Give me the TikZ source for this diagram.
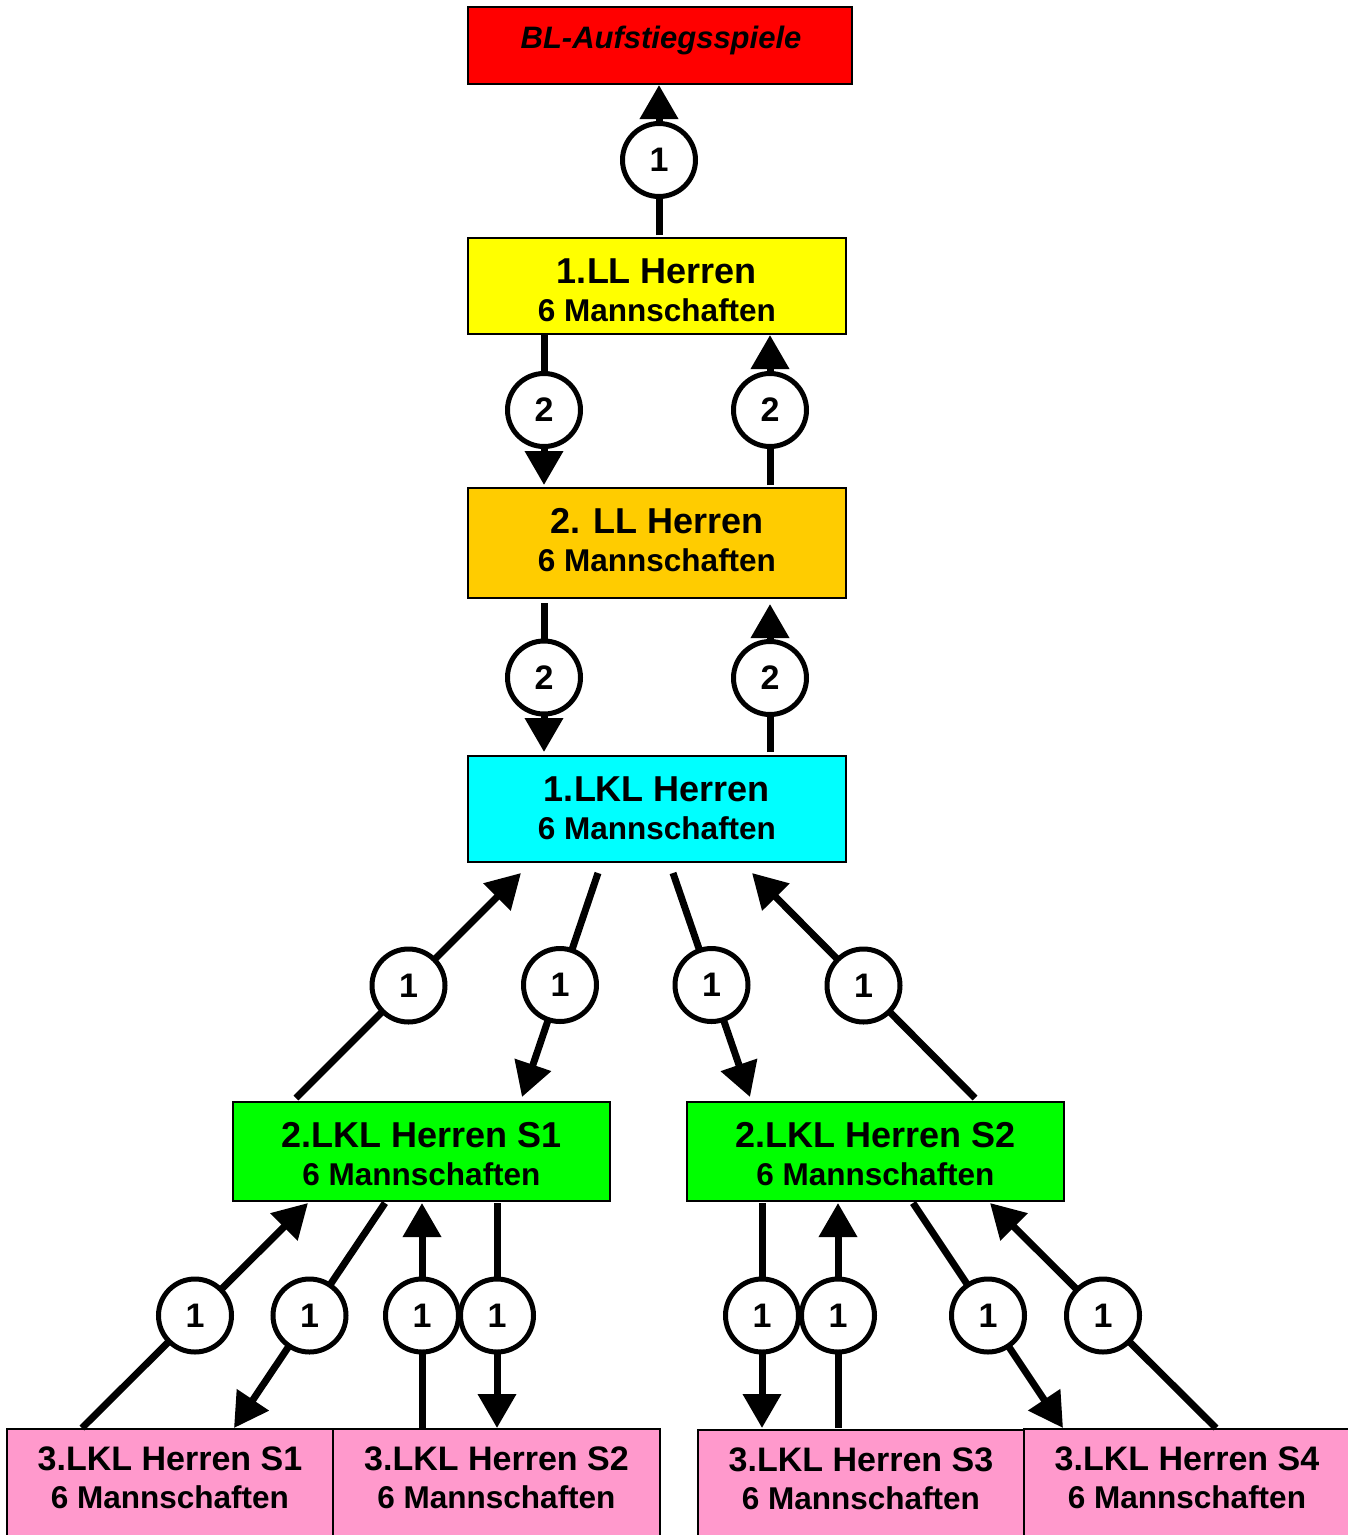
\documentclass[tikz,border=0pt]{standalone}
\usepackage{fontspec}
\setmainfont{Liberation Sans}
\usetikzlibrary{arrows.meta}
\definecolor{cRed}{HTML}{FF0000}
\definecolor{cYellow}{HTML}{FFFF00}
\definecolor{cOrange}{HTML}{FFCC00}
\definecolor{cCyan}{HTML}{00FFFF}
\definecolor{cGreen}{HTML}{00FF00}
\definecolor{cPink}{HTML}{FF99CC}
\begin{document}
\begin{tikzpicture}[x=1pt,y=-1pt,
  box/.style={draw=black, line width=2pt, inner sep=0pt, rectangle},
  bigbox/.style={box, minimum width=378pt},
  pinkbox/.style={box, fill=cPink, minimum width=326pt, minimum height=120pt, anchor=north},
  tA/.style={anchor=base, inner sep=0pt, font=\fontsize{36}{40}\selectfont\bfseries},
  tP/.style={anchor=base, inner sep=0pt, font=\fontsize{34}{40}\selectfont\bfseries},
  tB/.style={anchor=base, inner sep=0pt, font=\fontsize{31.5}{36}\selectfont\bfseries},
  conn/.style={line width=7pt, -{Triangle[length=34pt,width=37pt]}},
  num/.style={circle, draw=black, fill=white, line width=5pt, minimum size=73pt, inner sep=0pt, font=\fontsize{34}{36}\selectfont\bfseries}]
\useasboundingbox (0,0) rectangle (1348,1535);
\clip (0,0) rectangle (1348,1535);

% boxes
\node[box, fill=cRed, minimum width=384pt, minimum height=77pt] (bl) at (660,45.5) {};
\node[anchor=base, inner sep=0pt, font=\fontsize{31}{36}\selectfont\bfseries\itshape] (blt) at (661,48) {BL-Aufstiegsspiele};

\node[bigbox, fill=cYellow, minimum height=96pt] (ll1) at (657,286) {};
\node[tA] (ll1a) at (657,283) {1.LL Herren};
\node[tB] (ll1b) at (657,321.5) {6 Mannschaften};

\node[bigbox, fill=cOrange, minimum height=110pt] (ll2) at (657,543) {};
\node[tA] (ll2a) at (657,533) {2. LL Herren};
\node[tB] (ll2b) at (657,571.5) {6 Mannschaften};

\node[bigbox, fill=cCyan, minimum height=106pt] (lkl1) at (657,809) {};
\node[tA] (lkl1a) at (657,801) {1.LKL Herren};
\node[tB] (lkl1b) at (657,839.5) {6 Mannschaften};

\node[box, fill=cGreen, minimum width=377pt, minimum height=99pt] (lkl2a) at (421.5,1151.5) {};
\node[tA] (lkl2at) at (421.5,1147) {2.LKL Herren S1};
\node[tB] (lkl2ab) at (421.5,1185.5) {6 Mannschaften};

\node[box, fill=cGreen, minimum width=377pt, minimum height=99pt] (lkl2b) at (875.5,1151.5) {};
\node[tA] (lkl2bt) at (875.5,1147) {2.LKL Herren S2};
\node[tB] (lkl2bb) at (875.5,1185.5) {6 Mannschaften};

\node[pinkbox] (p1) at (170,1428) {};
\node[tP] (p1t) at (170,1470) {3.LKL Herren S1};
\node[tB] (p1b) at (170,1508) {6 Mannschaften};

\node[pinkbox, minimum width=327pt] (p2) at (496.5,1428) {};
\node[tP] (p2t) at (496.5,1470) {3.LKL Herren S2};
\node[tB] (p2b) at (496.5,1508) {6 Mannschaften};

\node[pinkbox] (p3) at (861,1429) {};
\node[tP] (p3t) at (861,1471) {3.LKL Herren S3};
\node[tB] (p3b) at (861,1509) {6 Mannschaften};

\node[pinkbox] (p4) at (1187,1428) {};
\node[tP] (p4t) at (1187,1470) {3.LKL Herren S4};
\node[tB] (p4b) at (1187,1508) {6 Mannschaften};

% connector end points
\coordinate (a1) at (659,235); \coordinate (a2) at (659,85);
\coordinate (b1) at (544,335); \coordinate (b2) at (544,485);
\coordinate (b3) at (770,485); \coordinate (b4) at (770,335);
\coordinate (c1) at (544,603); \coordinate (c2) at (544,752);
\coordinate (c3) at (770,752); \coordinate (c4) at (770,604);
\coordinate (d1) at (296,1098); \coordinate (d2) at (521,873);
\coordinate (d3) at (598,873); \coordinate (d4) at (522,1097);
\coordinate (d5) at (673,873); \coordinate (d6) at (750,1097);
\coordinate (d7) at (975,1098); \coordinate (d8) at (752,873);
\coordinate (e1) at (82,1428); \coordinate (e2) at (308,1203);
\coordinate (e3) at (385,1203); \coordinate (e4) at (234,1428);
\coordinate (e5) at (422,1428); \coordinate (e6) at (422,1203);
\coordinate (e7) at (497,1203); \coordinate (e8) at (497,1428);
\coordinate (f1) at (762,1203); \coordinate (f2) at (762,1428);
\coordinate (f3) at (838,1428); \coordinate (f4) at (838,1203);
\coordinate (f5) at (913,1203); \coordinate (f6) at (1063,1428);
\coordinate (f7) at (1216,1428); \coordinate (f8) at (990,1203);

% connectors
\draw[conn] (a1) -- node[num] (n1) {1} (a2);
\draw[conn] (b1) -- node[num] (n2) {2} (b2);
\draw[conn] (b3) -- node[num] (n3) {2} (b4);
\draw[conn] (c1) -- node[num] (n4) {2} (c2);
\draw[conn] (c3) -- node[num] (n5) {2} (c4);
\draw[conn] (d1) -- node[num] (n6) {1} (d2);
\draw[conn] (d3) -- node[num] (n7) {1} (d4);
\draw[conn] (d5) -- node[num] (n8) {1} (d6);
\draw[conn] (d7) -- node[num] (n9) {1} (d8);
\draw[conn] (e1) -- node[num] (n10) {1} (e2);
\draw[conn] (e3) -- node[num] (n11) {1} (e4);
\draw[conn] (e5) -- node[num] (n12) {1} (e6);
\draw[conn] (e7) -- node[num] (n13) {1} (e8);
\draw[conn] (f1) -- node[num] (n14) {1} (f2);
\draw[conn] (f3) -- node[num] (n15) {1} (f4);
\draw[conn] (f5) -- node[num] (n16) {1} (f6);
\draw[conn] (f7) -- node[num] (n17) {1} (f8);
\end{tikzpicture}
\end{document}
